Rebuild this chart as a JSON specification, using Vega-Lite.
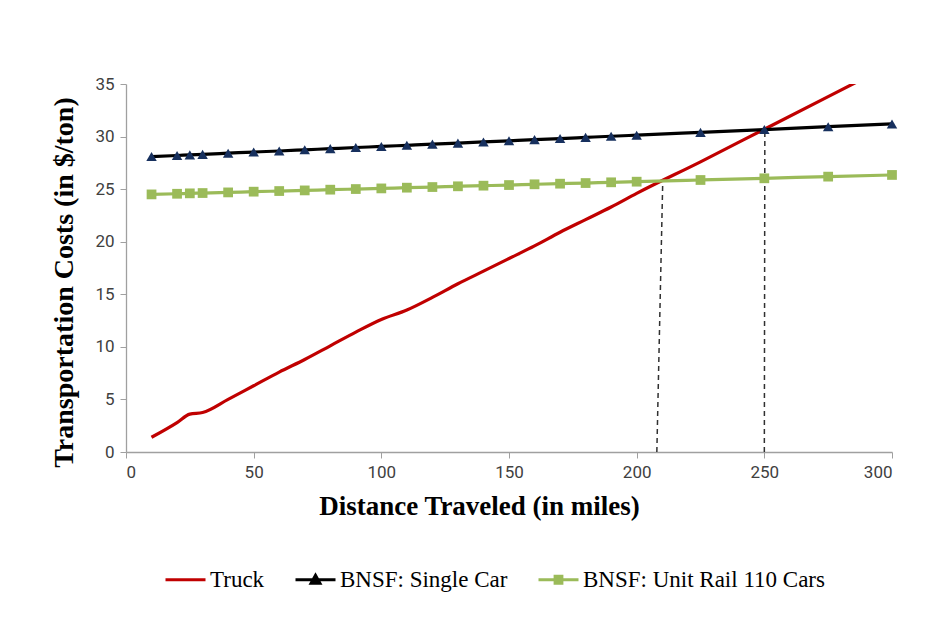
{
  "$schema": "https://vega.github.io/schema/vega-lite/v6.json",
  "autosize": "none",
  "width": 766,
  "height": 368,
  "padding": {"left": 126, "top": 84, "right": 48, "bottom": 174},
  "background": "white",
  "config": {"view": {"stroke": null}},
  "datasets": {
    "costs": [
      {"series": "Truck", "distance": 10, "cost": 1.4},
      {"series": "Truck", "distance": 20, "cost": 2.8},
      {"series": "Truck", "distance": 25, "cost": 3.6},
      {"series": "Truck", "distance": 30, "cost": 3.75},
      {"series": "Truck", "distance": 40, "cost": 5.0},
      {"series": "Truck", "distance": 50, "cost": 6.3},
      {"series": "Truck", "distance": 60, "cost": 7.6},
      {"series": "Truck", "distance": 70, "cost": 8.8},
      {"series": "Truck", "distance": 80, "cost": 10.1},
      {"series": "Truck", "distance": 90, "cost": 11.4},
      {"series": "Truck", "distance": 100, "cost": 12.6},
      {"series": "Truck", "distance": 110, "cost": 13.5},
      {"series": "Truck", "distance": 120, "cost": 14.7},
      {"series": "Truck", "distance": 130, "cost": 16.0},
      {"series": "Truck", "distance": 140, "cost": 17.2},
      {"series": "Truck", "distance": 150, "cost": 18.4},
      {"series": "Truck", "distance": 160, "cost": 19.6},
      {"series": "Truck", "distance": 170, "cost": 20.9},
      {"series": "Truck", "distance": 180, "cost": 22.1},
      {"series": "Truck", "distance": 190, "cost": 23.3},
      {"series": "Truck", "distance": 200, "cost": 24.6},
      {"series": "Truck", "distance": 225, "cost": 27.6},
      {"series": "Truck", "distance": 250, "cost": 30.7},
      {"series": "Truck", "distance": 275, "cost": 33.8},
      {"series": "Truck", "distance": 300, "cost": 36.9},
      {"series": "BNSF: Single Car", "distance": 10, "cost": 28.1},
      {"series": "BNSF: Single Car", "distance": 20, "cost": 28.2},
      {"series": "BNSF: Single Car", "distance": 25, "cost": 28.26},
      {"series": "BNSF: Single Car", "distance": 30, "cost": 28.31},
      {"series": "BNSF: Single Car", "distance": 40, "cost": 28.42},
      {"series": "BNSF: Single Car", "distance": 50, "cost": 28.53},
      {"series": "BNSF: Single Car", "distance": 60, "cost": 28.63},
      {"series": "BNSF: Single Car", "distance": 70, "cost": 28.74},
      {"series": "BNSF: Single Car", "distance": 80, "cost": 28.85},
      {"series": "BNSF: Single Car", "distance": 90, "cost": 28.96},
      {"series": "BNSF: Single Car", "distance": 100, "cost": 29.06},
      {"series": "BNSF: Single Car", "distance": 110, "cost": 29.17},
      {"series": "BNSF: Single Car", "distance": 120, "cost": 29.28},
      {"series": "BNSF: Single Car", "distance": 130, "cost": 29.38},
      {"series": "BNSF: Single Car", "distance": 140, "cost": 29.49},
      {"series": "BNSF: Single Car", "distance": 150, "cost": 29.6},
      {"series": "BNSF: Single Car", "distance": 160, "cost": 29.71},
      {"series": "BNSF: Single Car", "distance": 170, "cost": 29.81},
      {"series": "BNSF: Single Car", "distance": 180, "cost": 29.92},
      {"series": "BNSF: Single Car", "distance": 190, "cost": 30.03},
      {"series": "BNSF: Single Car", "distance": 200, "cost": 30.13},
      {"series": "BNSF: Single Car", "distance": 225, "cost": 30.4},
      {"series": "BNSF: Single Car", "distance": 250, "cost": 30.67},
      {"series": "BNSF: Single Car", "distance": 275, "cost": 30.94},
      {"series": "BNSF: Single Car", "distance": 300, "cost": 31.2},
      {"series": "BNSF: Unit Rail 110 Cars", "distance": 10, "cost": 24.5},
      {"series": "BNSF: Unit Rail 110 Cars", "distance": 20, "cost": 24.56},
      {"series": "BNSF: Unit Rail 110 Cars", "distance": 25, "cost": 24.6},
      {"series": "BNSF: Unit Rail 110 Cars", "distance": 30, "cost": 24.63},
      {"series": "BNSF: Unit Rail 110 Cars", "distance": 40, "cost": 24.69},
      {"series": "BNSF: Unit Rail 110 Cars", "distance": 50, "cost": 24.76},
      {"series": "BNSF: Unit Rail 110 Cars", "distance": 60, "cost": 24.82},
      {"series": "BNSF: Unit Rail 110 Cars", "distance": 70, "cost": 24.88},
      {"series": "BNSF: Unit Rail 110 Cars", "distance": 80, "cost": 24.95},
      {"series": "BNSF: Unit Rail 110 Cars", "distance": 90, "cost": 25.01},
      {"series": "BNSF: Unit Rail 110 Cars", "distance": 100, "cost": 25.07},
      {"series": "BNSF: Unit Rail 110 Cars", "distance": 110, "cost": 25.14},
      {"series": "BNSF: Unit Rail 110 Cars", "distance": 120, "cost": 25.2},
      {"series": "BNSF: Unit Rail 110 Cars", "distance": 130, "cost": 25.27},
      {"series": "BNSF: Unit Rail 110 Cars", "distance": 140, "cost": 25.33},
      {"series": "BNSF: Unit Rail 110 Cars", "distance": 150, "cost": 25.39},
      {"series": "BNSF: Unit Rail 110 Cars", "distance": 160, "cost": 25.46},
      {"series": "BNSF: Unit Rail 110 Cars", "distance": 170, "cost": 25.52},
      {"series": "BNSF: Unit Rail 110 Cars", "distance": 180, "cost": 25.58},
      {"series": "BNSF: Unit Rail 110 Cars", "distance": 190, "cost": 25.65},
      {"series": "BNSF: Unit Rail 110 Cars", "distance": 200, "cost": 25.71},
      {"series": "BNSF: Unit Rail 110 Cars", "distance": 225, "cost": 25.87},
      {"series": "BNSF: Unit Rail 110 Cars", "distance": 250, "cost": 26.03},
      {"series": "BNSF: Unit Rail 110 Cars", "distance": 275, "cost": 26.19},
      {"series": "BNSF: Unit Rail 110 Cars", "distance": 300, "cost": 26.35}
    ],
    "drops": [
      {"distance": 207.9, "distance_top": 210.2, "cost_low": 0, "cost_high": 25.6},
      {"distance": 250, "distance_top": 250.2, "cost_low": 0, "cost_high": 30.7}
    ],
    "legendkeys": [
      {"series": "Truck"},
      {"series": "BNSF: Single Car"},
      {"series": "BNSF: Unit Rail 110 Cars"}
    ]
  },
  "layer": [
    {
      "data": {"name": "legendkeys"},
      "mark": {"type": "point", "filled": true, "size": 0},
      "encoding": {
        "color": {
          "field": "series", "type": "nominal",
          "scale": {"domain": ["Truck", "BNSF: Single Car", "BNSF: Unit Rail 110 Cars"], "range": ["#C00000", "#000000", "#9BBB59"]},
          "legend": {
            "orient": "none", "direction": "horizontal", "legendX": 38, "legendY": 474,
            "title": null, "labelLimit": 0,
            "labelFont": "Liberation Serif", "labelFontSize": 23, "labelColor": "#000000", "labelOffset": 3,
            "symbolSize": 1600, "symbolStrokeWidth": 3, "columnPadding": 24, "symbolOpacity": 1,
            "encode": {
              "symbols": {
                "update": {
                  "size": {"value": 1600},
                  "opacity": {"value": 1},
                  "strokeWidth": {"value": 3},
                  "stroke": {"scale": "color", "field": "value"},
                  "fill": {"scale": "color", "field": "value"}
                }
              }
            }
          }
        },
        "shape": {
          "field": "series", "type": "nominal",
          "scale": {
            "domain": ["Truck", "BNSF: Single Car", "BNSF: Unit Rail 110 Cars"],
            "range": ["M-1,0H1", "M-1,0H1M-0.22,0.17L0,-0.22L0.22,0.17Z", "M-1,0H1M-0.17,-0.17H0.17V0.17H-0.17Z"]
          }
        }
      }
    },
    {
      "data": {"name": "drops"},
      "mark": {"type": "rule", "color": "#303030", "strokeWidth": 1.5, "strokeDash": [5, 4]},
      "encoding": {
        "x": {"field": "distance", "type": "quantitative"},
        "x2": {"field": "distance_top"},
        "y": {"field": "cost_low", "type": "quantitative"},
        "y2": {"field": "cost_high"}
      }
    },
    {
      "data": {"name": "costs"},
      "mark": {"type": "line", "strokeWidth": 3.2, "interpolate": "monotone", "clip": true},
      "encoding": {
        "x": {
          "field": "distance", "type": "quantitative",
          "scale": {"domain": [0, 300], "nice": false},
          "axis": {
            "values": [0, 50, 100, 150, 200, 250, 300],
            "title": "Distance Traveled (in miles)",
            "titleFont": "Liberation Serif", "titleFontSize": 27, "titleFontWeight": "bold", "titleColor": "#000000",
            "titlePadding": 13, "titleX": 353,
            "labelFont": "Liberation Sans Narrow, Roboto", "labelFontSize": 17, "labelColor": "#404040", "labelPadding": 6,
            "domainColor": "#A0A0A0", "domainWidth": 1.3, "tickColor": "#A0A0A0", "tickSize": 6, "grid": false
          }
        },
        "y": {
          "field": "cost", "type": "quantitative",
          "scale": {"domain": [0, 35], "nice": false},
          "axis": {
            "values": [0, 5, 10, 15, 20, 25, 30, 35],
            "title": "Transportation Costs (in $/ton)",
            "titleFont": "Liberation Serif", "titleFontSize": 28, "titleFontWeight": "bold", "titleColor": "#000000",
            "titlePadding": 16, "titleY": 198,
            "labelFont": "Liberation Sans Narrow, Roboto", "labelFontSize": 17, "labelColor": "#404040", "labelPadding": 6,
            "domainColor": "#A0A0A0", "domainWidth": 1.3, "tickColor": "#A0A0A0", "tickSize": 6, "grid": false
          }
        },
        "stroke": {
          "field": "series", "type": "nominal",
          "scale": {"domain": ["Truck", "BNSF: Single Car", "BNSF: Unit Rail 110 Cars"], "range": ["#C00000", "#000000", "#9BBB59"]},
          "legend": null
        }
      }
    },
    {
      "data": {"name": "costs"},
      "transform": [{"filter": "datum.series === 'BNSF: Single Car'"}],
      "mark": {"type": "point", "shape": "triangle-up", "filled": true, "fill": "#17305E", "size": 110, "opacity": 1},
      "encoding": {
        "x": {"field": "distance", "type": "quantitative"},
        "y": {"field": "cost", "type": "quantitative"}
      }
    },
    {
      "data": {"name": "costs"},
      "transform": [{"filter": "datum.series === 'BNSF: Unit Rail 110 Cars'"}],
      "mark": {"type": "point", "shape": "square", "filled": true, "fill": "#9BBB59", "size": 95, "opacity": 1},
      "encoding": {
        "x": {"field": "distance", "type": "quantitative"},
        "y": {"field": "cost", "type": "quantitative"}
      }
    }
  ]
}
